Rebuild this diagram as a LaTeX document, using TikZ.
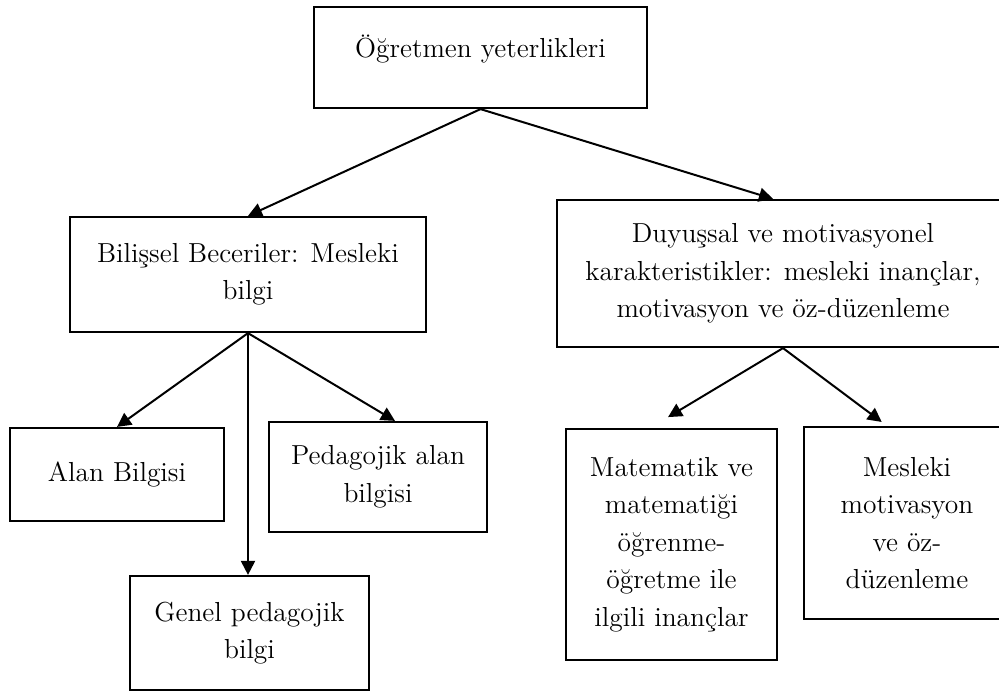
\documentclass[tikz,border=0pt]{standalone}
\usepackage{fontspec}
\usetikzlibrary{arrows.meta, positioning}

\begin{document}
\begin{tikzpicture}[
    x=0.5pt, y=-0.5pt,
    box/.style={
        draw,
        line width=1.1pt,
        inner sep=0pt,
        align=center,
        font=\fontsize{13.75}{18.75}\selectfont
    },
    link/.style={-{Triangle[length=7pt, width=7pt]}, line width=1pt}
]
\useasboundingbox (0,0) rectangle (999,691);

\node[box, minimum width=166.5pt, minimum height=50.5pt, text height=12pt, text depth=12pt]
    (teacher) at (480.5,57.5) {Öğretmen yeterlikleri};
\node[box, minimum width=178pt, minimum height=57.5pt]
    (cognitive) at (248,274.5) {Bilişsel Beceriler: Mesleki\\bilgi};
\node[box, minimum width=226pt, minimum height=73.5pt]
    (affective) at (783,273.5) {Duyuşsal ve motivasyonel\\karakteristikler: mesleki inançlar,\\motivasyon ve öz-düzenleme};

\node[box, minimum width=107pt, minimum height=46.5pt]
    (content) at (117,474.5) {Alan Bilgisi};
\node[box, minimum width=109pt, minimum height=55pt]
    (pck) at (378,477) {Pedagojik alan\\bilgisi};
\node[box, minimum width=119.5pt, minimum height=57pt]
    (general) at (249.5,633) {Genel pedagojik\\bilgi};

\node[box, minimum width=105.5pt, minimum height=115.5pt]
    (beliefs) at (671.5,544.5) {Matematik ve\\matematiği\\öğrenme-\\öğretme ile\\ilgili inançlar};
\node[box, minimum width=103pt, minimum height=96pt]
    (motivation) at (907,523) {Mesleki\\motivasyon\\ve öz-\\düzenleme};

\draw[link] (teacher.south) -- (cognitive.north);
\draw[link] (teacher.south) -- ([xshift=-5pt]affective.north);
\draw[link] (cognitive.south) -- (content.north);
\draw[link] (cognitive.south) -- (cognitive.south |- general.north);
\draw[link] (cognitive.south) -- ([xshift=8.5pt]pck.north);
\draw[link, shorten >=10.5pt] (affective.south) -- ([xshift=-10.75pt]beliefs.north);
\draw[link, shorten >=3.3pt] (affective.south) -- ([xshift=-10pt]motivation.north);
\end{tikzpicture}
\end{document}
